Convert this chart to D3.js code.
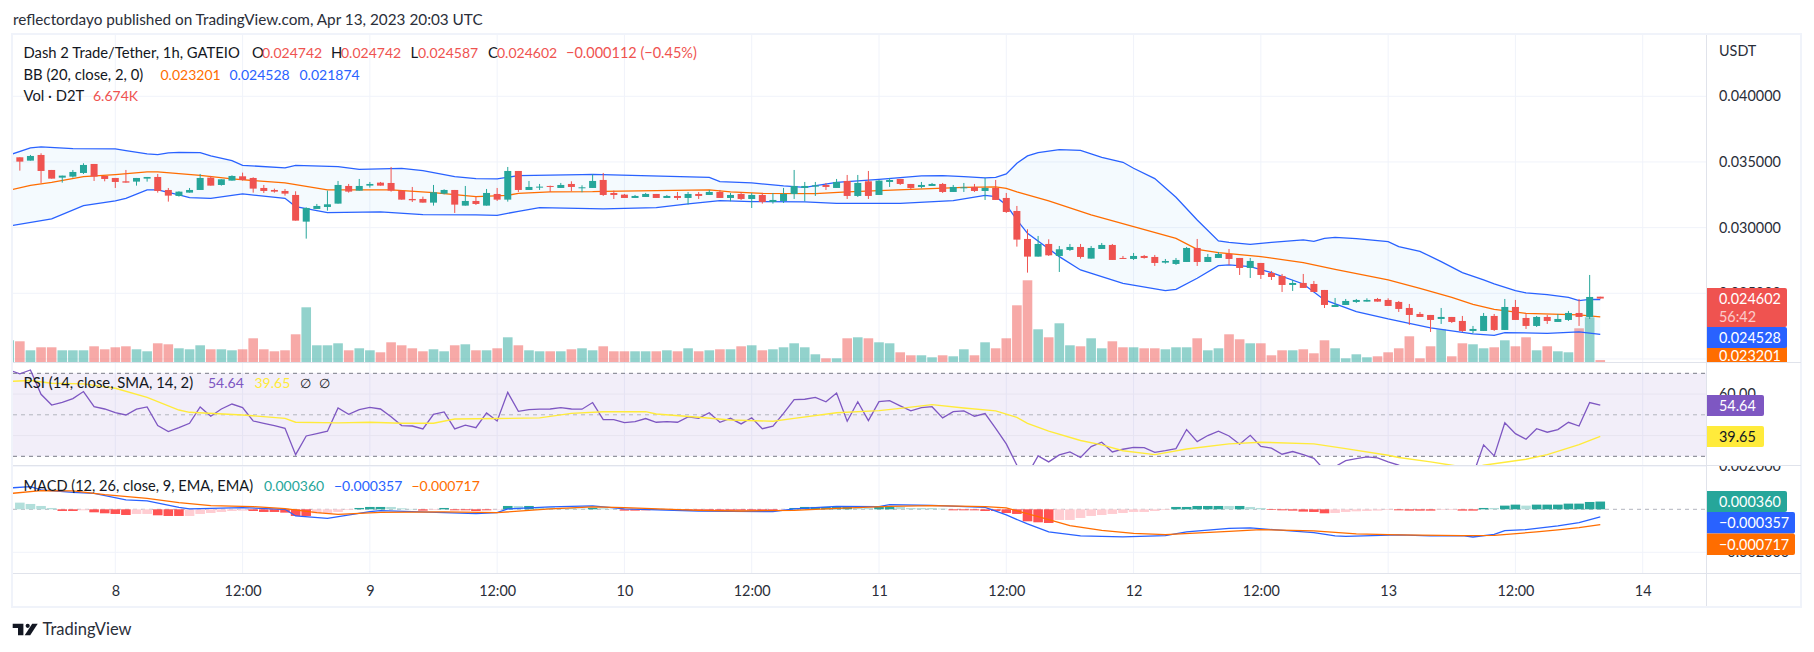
<!DOCTYPE html>
<html>
<head>
<meta charset="utf-8">
<script src="https://cdn.jsdelivr.net/npm/d3@7/dist/d3.min.js"></script>
<style>
	body { margin: 0; background: #fff; }
	text { font-family: 'Lato', 'Noto Sans', sans-serif; fill: #131722; }
	.axis text { font-size: 14.4px; fill: #2a2e39; }
	.axis .domain, .axis .tick line { display: none; }
</style>
</head>
<body>
<svg width="1814" height="652"></svg>
<script>
const svg = d3.select('svg');

// o, h, l, c in millionths of USDT, one row per 1h candle from Apr 7 15:00 UTC
const candles = [
	[35356,35356,34340,35026],[35102,35533,35102,35457],[35533,35660,33401,34315],[34391,34391,33731,33731],[33807,33960,33427,33960],
	[33884,34391,33807,34239],[34163,34899,34087,34772],[34848,34848,33554,33884],[33934,33934,33528,33706],[33782,33782,33021,33478],
	[33528,34391,33427,33427],[33503,33782,33198,33782],[33731,33858,33503,33858],[33858,34087,32665,32792],[32868,33021,31980,32437],
	[32412,32767,32361,32741],[32665,33021,32665,32868],[32868,34087,32868,33782],[33807,33934,33198,33198],[33249,33681,33198,33681],
	[33579,33985,33579,33934],[33909,34188,33579,33630],[33782,33833,32665,32970],[33021,33249,32640,32792],[32868,32970,32665,32741],
	[32792,32945,32437,32589],[32488,32767,30533,30533],[30457,31549,29163,31498],[31422,31802,31422,31650],[31574,32818,31295,31777],
	[31828,33554,31828,33249],[33173,33325,32665,32741],[32818,33706,32818,33173],[33198,33478,33046,33325],[33427,33478,33198,33198],
	[33401,34620,32741,32818],[32818,32843,32132,32132],[32183,33097,31955,32082],[32183,32361,31904,31904],[31904,33249,31676,32691],
	[32589,32919,32538,32868],[32868,32868,31117,31752],[31676,33173,31676,32031],[32031,32361,31726,31802],[31676,32945,31676,32640],
	[32564,33021,32031,32132],[32132,34620,31980,34315],[34315,34315,32716,32868],[32868,33554,32868,33097],[33046,33325,32868,33122],
	[33173,33198,32716,33097],[33021,33401,33021,33249],[33325,33528,32767,33097],[33021,33224,32691,33072],[33021,34061,33021,33554],
	[33630,34163,32412,32488],[32640,32818,32183,32488],[32513,32564,32259,32259],[32259,32488,32259,32412],[32335,32640,32335,32564],
	[32564,32564,32259,32259],[32259,32488,32259,32412],[32412,32716,32107,32259],[32259,32716,31752,32564],[32564,32716,32183,32412],
	[32488,32868,32488,32716],[32716,32868,32259,32259],[32259,32640,32005,32488],[32564,32716,32107,32183],[32183,32640,31498,32488],
	[32488,32640,31828,31955],[31955,32640,31828,32107],[32031,33021,31878,32564],[32564,34391,32183,33173],[33021,33478,32005,33173],
	[33122,33478,32412,33224],[33249,33401,32868,33097],[33021,33706,33021,33478],[33554,34011,32183,32412],[32412,34011,32335,33401],
	[33528,34315,32183,32412],[32488,33630,32488,33579],[33478,33782,33097,33630],[33706,33706,33249,33325],[33325,33325,32919,33021],
	[33097,33478,32995,33249],[33173,33401,33173,33325],[33325,33401,32640,32716],[32716,33249,32716,33097],[32995,33401,32716,33072],
	[33097,33325,32716,32792],[32792,33782,32107,33021],[33021,33630,32107,32107],[32259,32640,31117,31193],[31269,31650,28554,29087],
	[29138,29874,26574,27793],[27793,29366,27793,28757],[28757,29112,27843,27894],[27843,28605,26625,28351],[28300,28757,28224,28528],
	[28528,28757,27640,27767],[27640,28605,27640,28452],[28376,28833,28376,28681],[28681,28757,27539,27539],[27691,27843,27615,27615],
	[27615,28072,27539,27843],[27843,27919,27640,27691],[27767,27919,27082,27310],[27335,27615,27259,27462],[27234,27691,27158,27539],
	[27386,28528,27386,28452],[28452,29138,27082,27386],[27386,27996,27386,27767],[27691,28148,27691,27996],[27996,28376,27158,27615],
	[27691,27691,26396,26929],[26929,27691,26168,27462],[27310,27310,26092,26396],[26549,26701,26016,26244],[26320,26473,25102,25635],
	[25635,26016,25179,25788],[25788,26473,25407,25407],[25711,25940,25102,25102],[25254,25254,23883,24112],[23959,24645,23959,24112],
	[24112,24569,24112,24417],[24341,24569,24265,24493],[24366,24620,24366,24493],[24569,24645,24366,24366],[24493,24620,24036,24036],
	[24341,24417,23579,23808],[23883,24188,22590,23351],[23427,23579,23199,23199],[23351,23351,22057,22970],[23046,23883,22666,23199],
	[23199,23199,22742,22818],[22894,23275,22057,22133],[22133,22514,21955,22285],[22133,23503,22133,23275],[23275,23427,22133,22209],
	[22209,24569,22209,23959],[23959,24493,22970,22970],[23122,23478,22285,22514],[22514,23275,22438,23199],[23199,23351,22666,22894],
	[22818,23427,22818,23046],[22970,23655,22894,23503],[23503,24569,22514,23199],[23199,26396,23046,24721],[24742,24742,24587,24602]
];

// volume in thousands, same candles
const volume = [
	63,36,45,45,36,36,36,48,39,45,48,39,33,57,54,42,39,51,39,39,36,39,72,39,33,36,84,165,51,51,
	57,36,42,36,30,60,51,42,33,39,33,51,54,36,36,42,75,51,36,33,33,33,39,42,36,48,33,33,33,33,
	33,36,33,42,33,36,39,39,48,51,36,39,45,57,45,24,12,12,72,75,72,60,57,30,21,21,15,21,18,39,
	21,60,42,72,171,246,99,75,117,51,48,72,42,63,45,45,42,42,39,45,45,72,36,42,84,69,57,57,21,36,
	36,39,27,66,42,12,24,15,18,30,42,78,12,48,99,18,57,54,42,45,66,48,75,36,48,33,30,102,135,6.674
];

// bollinger bands, [candle number, price in millionths]
const bbUpper = [
	[0,35533],[2,36066],[3,36142],[6,36015],[10,35990],[11,35863],[13,35609],[14,35559],[15,35686],[16,35736],[18,35711],
	[19,35457],[21,35102],[22,34747],[26,34544],[27,34747],[31,34645],[33,34442],[37,34518],[39,34340],[40,34188],[42,33884],
	[44,33731],[46,33706],[48,33960],[54,34036],[55,34061],[66,33833],[67,33503],[70,33401],[73,33173],[75,33072],[78,33452],
	[82,33681],[86,33935],[88,33960],[90,33884],[92,33782],[93,33833],[94,34087],[95,34899],[96,35457],[97,35711],[99,35939],
	[101,35888],[103,35356],[105,34975],[106,34518],[108,33731],[110,32310],[112,30584],[114,28985],[115,28884],[117,28731],
	[119,28884],[122,29061],[123,28960],[124,29188],[125,29264],[127,29163],[130,28935],[131,28554],[133,28198],[135,27412],
	[137,26574],[139,26016],[140,25711],[142,25204],[143,25026],[145,24899],[147,24696],[148,24442],[149,24544],[150,24528]
];
const bbBasis = [
	[0,32843],[2,33224],[4,33452],[7,33884],[10,34036],[13,34239],[14,34239],[18,33985],[21,33706],[26,33401],[30,32868],
	[36,32868],[40,32665],[44,32361],[47,32462],[48,32614],[51,32716],[55,32741],[56,32767],[61,32818],[66,32868],[68,32716],
	[71,32614],[76,32589],[79,32716],[85,32919],[90,33071],[93,33097],[94,32995],[95,32716],[96,32488],[98,32031],[102,30965],
	[106,30077],[110,29188],[112,28351],[114,28097],[118,27793],[122,27335],[125,26828],[130,26016],[133,25381],[136,24696],
	[138,24163],[140,23782],[143,23478],[148,23351],[150,23201]
];
const bbLower = [
	[0,30127],[4,30661],[7,31676],[10,32031],[11,32234],[13,32868],[14,32868],[16,32488],[17,32285],[19,32234],[22,32564],
	[26,32234],[27,31599],[30,31142],[35,31193],[39,30990],[44,30965],[46,30939],[48,31244],[50,31523],[56,31422],[61,31523],
	[64,31802],[67,32056],[70,31980],[75,31955],[78,31853],[84,31853],[89,32056],[92,32462],[93,32361],[94,31726],[95,30584],
	[96,29569],[99,27793],[101,26777],[105,25762],[109,25204],[110,25305],[112,26143],[114,27107],[115,27158],[117,27031],
	[119,26574],[122,25711],[124,24493],[127,23605],[130,23046],[132,22716],[134,22361],[138,21904],[140,21803],[141,22006],
	[145,21955],[148,22057],[150,21874]
];

// rsi, one value per candle, first value is the candle just off the left edge
const rsi = [
	71.6,69.7,71.6,59.9,54.7,56.0,57.8,61.2,53.9,52.8,51.0,49.9,52.7,53.8,44.8,41.9,43.8,45.9,53.8,49.3,52.8,55.2,53.5,47.0,45.9,
	44.8,43.5,30.8,39.8,40.9,42.1,53.3,50.2,52.5,53.6,52.8,49.1,44.8,44.6,43.2,50.2,51.4,43.2,45.0,43.8,50.9,47.0,60.8,51.7,52.5,
	52.7,52.8,53.5,52.8,52.7,55.9,47.7,47.7,46.2,46.7,48.2,46.4,46.7,46.4,49.0,48.3,51.0,46.4,48.3,45.6,48.6,43.3,44.5,50.7,57.3,
	57.5,58.4,56.3,60.5,46.9,56.3,47.2,56.3,56.8,54.3,51.9,53.5,53.9,48.5,51.5,51.9,49.3,50.6,43.5,36.0,25.7,21.2,30.2,27.3,30.7,
	32.1,29.4,34.7,36.8,32.1,33.4,34.3,34.2,31.9,32.7,33.7,42.9,37.1,40.0,42.1,39.8,35.8,40.1,34.8,33.9,31.0,32.3,30.8,29.0,23.4,
	25.0,27.9,28.9,29.7,29.2,27.3,25.7,23.4,24.2,21.0,21.8,19.4,17.8,21.0,35.5,30.2,46.2,40.9,38.2,43.3,41.6,42.9,46.4,44.6,55.9,54.64
];
const rsiSma = [
	[0,66.1],[2,66.5],[4,65.2],[7,64.9],[10,62.8],[13,58.4],[16,52.3],[17,51.2],[22,49.9],[26,48.3],[27,46.4],[31,46.1],[34,46.4],
	[37,45.9],[40,45.9],[42,48.0],[46,48.2],[50,48.5],[53,50.7],[56,51.5],[60,51.5],[61,50.4],[65,48.8],[68,47.5],[72,46.9],[74,48.3],
	[78,51.0],[82,52.0],[84,53.1],[87,54.9],[90,53.3],[93,51.9],[95,48.8],[96,45.9],[98,42.1],[101,37.6],[103,35.5],[105,32.7],
	[108,30.8],[111,33.5],[115,36.0],[118,36.8],[123,36.0],[126,33.7],[130,30.5],[131,29.4],[134,27.3],[136,25.7],[138,24.2],[139,25.7],
	[141,27.1],[143,28.6],[145,30.8],[148,35.6],[150,39.65]
];

// macd lines, [candle number, millionths]
const macdLine = [
	[0,992],[2,1054],[3,899],[6,790],[8,744],[11,434],[13,388],[16,93],[17,16],[22,78],[26,0],[27,-310],[30,-419],[34,-109],[35,-62],
	[41,-155],[44,-202],[46,-155],[47,16],[51,109],[55,155],[58,16],[65,-78],[72,-109],[74,16],[78,140],[82,124],[83,217],[87,186],
	[92,93],[94,-264],[96,-682],[98,-1054],[101,-1240],[105,-1287],[109,-1225],[111,-1054],[115,-884],[117,-868],[123,-1085],[125,-1240],
	[126,-1256],[131,-1194],[134,-1240],[137,-1225],[138,-1287],[140,-1163],[141,-992],[143,-946],[146,-775],[148,-620],[150,-357]
];
const macdSignal = [
	[0,729],[3,868],[6,853],[9,682],[13,512],[16,310],[19,171],[23,124],[26,31],[29,-155],[31,-233],[35,-140],[41,-124],[46,-155],[51,16],
	[55,109],[58,78],[65,-47],[69,-78],[74,-47],[78,47],[83,140],[87,171],[92,124],[94,62],[97,-341],[100,-760],[103,-977],[106,-1116],
	[109,-1178],[115,-1023],[118,-946],[123,-1008],[127,-1147],[131,-1194],[137,-1225],[140,-1209],[144,-1054],[146,-961],[148,-853],[150,-717]
];
const macdHist = [
	310,248,155,62,-78,-78,-47,-140,-186,-217,-264,-217,-217,-279,-310,-310,-310,-217,-171,-124,-78,-62,-78,-124,-124,-155,-310,-310,-186,-186,
	-124,-31,62,109,109,109,47,16,-62,-31,62,-47,-47,-78,-47,-16,155,155,155,93,93,62,62,31,62,47,16,-62,-62,-47,
	-31,-31,-16,-47,-47,-47,-47,-47,-47,-47,-78,-78,-47,62,109,109,109,109,109,62,62,109,109,109,62,62,62,31,-47,-47,
	-47,-78,-78,-171,-217,-558,-605,-636,-496,-496,-403,-310,-264,-217,-171,-124,-124,-78,-31,109,109,155,155,155,155,155,109,62,-31,-47,
	-62,-109,-124,-186,-171,-124,-93,-78,-62,-31,-47,-62,-62,-62,-31,-31,-62,-62,62,62,171,217,171,217,217,217,264,264,341,360
];
// g rising above zero, l falling above zero, p rising below zero, r falling below zero
const macdHistKind = [
	'llll', 'rr', 'p', 'rrrr', 'pp', 'rrr', 'pppppp', 'rrrrrr', 'pppp', 'ggg', 'lll', 'r', 'p', 'g', 'rrrr', 'p', 'g', 'l', 'g', 'lllll',
	'g', 'll', 'rrr', 'ppp', 'rrrrrrrrr', 'p', 'gggggg', 'll', 'gg', 'lllll', 'rrrrrrrrrr', 'ppppppppppp', 'ggggg', 'l', 'g', 'll',
	'rrrrrr', 'pppppp', 'rrrr', 'pp', 'rr', 'g', 'l', 'gg', 'l', 'ggggggg'
].join('');

const colors = {
	up: '#26a69a', down: '#ef5350', blue: '#2962ff', orange: '#ff6d00',
	purple: '#7e57c2', yellow: '#ffeb3b', grid: '#f0f3fa', line: '#e0e3eb',
};

const plot = { left: 13, right: 1706, top: 35, bottom: 573 };
const panes = {
	price: { top: 35, bottom: 362 },
	rsi: { top: 363, bottom: 465 },
	macd: { top: 466, bottom: 573 },
};

const time = n => new Date(Date.UTC(2023, 3, 7, 15 + n - 1));

const render = () => {
	const x = d3.scaleUtc()
		.domain([new Date(Date.UTC(2023, 3, 8)), new Date(Date.UTC(2023, 3, 14))])
		.range([115.3, 1642.7]);

	const yPrice = d3.scaleLinear().domain([0.04, 0.025]).range([96.3, 293.3]);
	const yVol = d3.scaleLinear().domain([0, 300]).range([362.3, 262.3]);
	const yRsi = d3.scaleLinear().domain([70, 30]).range([373.3, 456.3]);
	const yMacd = d3.scaleLinear().domain([0.002, -0.002]).range([466.3, 552.3]);

	const defs = svg.append('defs');
	Object.entries(panes).forEach(([name, p]) => {
		defs.append('clipPath').attr('id', `clip-${name}`)
			.append('rect')
				.attr('x', plot.left)
				.attr('y', p.top)
				.attr('width', plot.right - plot.left)
				.attr('height', p.bottom - p.top);
	});

	// grid
	const timeTicks = d3.range(0, 13).map(i => new Date(Date.UTC(2023, 3, 8, i * 12)));
	const grid = svg.append('g').attr('stroke', colors.grid).attr('stroke-width', 1);
	grid.selectAll('.v').data(timeTicks)
		.enter().append('line')
			.attr('x1', d => x(d)).attr('x2', d => x(d))
			.attr('y1', plot.top).attr('y2', plot.bottom);
	const priceTicks = [0.04, 0.035, 0.03, 0.025, 0.02];
	grid.selectAll('.p').data(priceTicks)
		.enter().append('line')
			.attr('x1', plot.left).attr('x2', plot.right)
			.attr('y1', d => yPrice(d)).attr('y2', d => yPrice(d));

	// price pane
	const price = svg.append('g').attr('clip-path', 'url(#clip-price)');

	price.selectAll('.vol').data(volume)
		.enter().append('rect')
			.attr('x', (d, i) => x(time(i + 1)) - 4.8)
			.attr('y', d => yVol(d))
			.attr('width', 9.6)
			.attr('height', d => yVol(0) - yVol(d))
			.attr('fill', (d, i) => candles[i][3] >= candles[i][0] ? colors.up : colors.down)
			.attr('opacity', 0.5);
	// the bar just off the left edge
	price.append('rect')
		.attr('x', x(time(0)) - 4.8).attr('y', yVol(66)).attr('width', 9.6)
		.attr('height', yVol(0) - yVol(66))
		.attr('fill', colors.up).attr('opacity', 0.5);

	const pLine = d3.line().x(d => x(time(d[0]))).y(d => yPrice(d[1] / 1e6));
	price.append('path')
		.attr('d', pLine([...bbUpper, ...bbLower.slice().reverse()]) + 'Z')
		.attr('fill', '#2196f3').attr('fill-opacity', 0.05);
	[[bbUpper, colors.blue], [bbLower, colors.blue], [bbBasis, colors.orange]].forEach(([d, c]) => {
		price.append('path')
			.attr('d', pLine(d))
			.attr('fill', 'none').attr('stroke', c).attr('stroke-width', 1.3);
	});

	const candle = price.selectAll('.candle').data(candles)
		.enter().append('g')
			.attr('fill', d => d[3] >= d[0] ? colors.up : colors.down)
			.attr('stroke', d => d[3] >= d[0] ? colors.up : colors.down);
	candle.append('line')
		.attr('x1', (d, i) => x(time(i + 1))).attr('x2', (d, i) => x(time(i + 1)))
		.attr('y1', d => yPrice(d[1] / 1e6)).attr('y2', d => yPrice(d[2] / 1e6));
	candle.append('rect')
		.attr('x', (d, i) => x(time(i + 1)) - 3.5)
		.attr('y', d => yPrice(Math.max(d[0], d[3]) / 1e6))
		.attr('width', 7)
		.attr('height', d => Math.max(1, Math.abs(yPrice(d[0] / 1e6) - yPrice(d[3] / 1e6))))
		.attr('stroke', 'none');

	// rsi pane
	svg.append('rect')
		.attr('x', plot.left).attr('width', plot.right - plot.left)
		.attr('y', yRsi(70)).attr('height', yRsi(30) - yRsi(70))
		.attr('fill', colors.purple).attr('opacity', 0.1);
	svg.append('g').attr('stroke', '#e7e4f0').selectAll('line').data([60, 40])
		.enter().append('line')
			.attr('x1', plot.left).attr('x2', plot.right)
			.attr('y1', d => yRsi(d)).attr('y2', d => yRsi(d));
	svg.append('g').selectAll('line').data([70, 50, 30])
		.enter().append('line')
			.attr('x1', plot.left).attr('x2', plot.right)
			.attr('y1', d => yRsi(d)).attr('y2', d => yRsi(d))
			.attr('stroke', d => d === 50 ? '#b2b5be' : '#787b86')
			.attr('stroke-dasharray', '4 4');

	const rsiG = svg.append('g').attr('clip-path', 'url(#clip-rsi)');
	rsiG.append('path')
		.attr('d', d3.line().x((d, i) => x(time(i))).y(d => yRsi(d))(rsi))
		.attr('fill', 'none').attr('stroke', colors.purple).attr('stroke-width', 1.3);
	rsiG.append('path')
		.attr('d', d3.line().x(d => x(time(d[0]))).y(d => yRsi(d[1]))(rsiSma))
		.attr('fill', 'none').attr('stroke', colors.yellow).attr('stroke-width', 1.4);

	// macd pane
	svg.append('g').attr('stroke', colors.grid).selectAll('line').data([0.002, -0.002])
		.enter().append('line')
			.attr('x1', plot.left).attr('x2', plot.right)
			.attr('y1', d => yMacd(d)).attr('y2', d => yMacd(d));
	svg.append('line')
		.attr('x1', plot.left).attr('x2', plot.right)
		.attr('y1', yMacd(0)).attr('y2', yMacd(0))
		.attr('stroke', '#b2b5be').attr('stroke-dasharray', '4 4');

	const histColor = { g: colors.up, l: '#b2dfdb', p: '#ffcdd2', r: '#ff5252' };
	const macdG = svg.append('g').attr('clip-path', 'url(#clip-macd)');
	macdG.selectAll('.hist').data(macdHist)
		.enter().append('rect')
			.attr('x', (d, i) => x(time(i + 1)) - 4.8)
			.attr('y', d => yMacd(Math.max(0, d / 1e6)))
			.attr('width', 9.6)
			.attr('height', d => Math.abs(yMacd(d / 1e6) - yMacd(0)))
			.attr('fill', (d, i) => histColor[macdHistKind[i]]);
	const mLine = d3.line().x(d => x(time(d[0]))).y(d => yMacd(d[1] / 1e6));
	[[macdLine, colors.blue], [macdSignal, colors.orange]].forEach(([d, c]) => {
		macdG.append('path')
			.attr('d', mLine(d))
			.attr('fill', 'none').attr('stroke', c).attr('stroke-width', 1.3);
	});

	// frame and separators
	const frame = svg.append('g');
	frame.append('rect')
		.attr('x', 12).attr('y', 34).attr('width', 1789).attr('height', 573)
		.attr('fill', 'none').attr('stroke', colors.grid).attr('stroke-width', 2);
	[362.5, 465.5, 573.5].forEach(y => {
		frame.append('line')
			.attr('x1', plot.left).attr('x2', 1801).attr('y1', y).attr('y2', y)
			.attr('stroke', colors.line);
	});
	frame.append('line')
		.attr('x1', 1706.5).attr('x2', 1706.5).attr('y1', 35).attr('y2', 606)
		.attr('stroke', colors.line);

	// axes
	svg.append('g').attr('class', 'axis')
		.attr('transform', 'translate(0, 597)')
		.call(d3.axisBottom(x).tickValues(timeTicks).tickSize(0).tickPadding(-11)
			.tickFormat(d => d.getUTCHours() === 12 ? '12:00' : d3.utcFormat('%-d')(d)));

	const axisX = 1719;
	svg.append('g').attr('class', 'axis')
		.attr('transform', `translate(${axisX}, 0)`)
		.call(d3.axisRight(yPrice).tickValues([0.04, 0.035, 0.03, 0.025]).tickSize(0).tickPadding(0)
			.tickFormat(d3.format('.6f')));
	svg.append('g').attr('class', 'axis')
		.attr('transform', `translate(${axisX}, 0)`)
		.call(d3.axisRight(yRsi).tickValues([60, 40]).tickSize(0).tickPadding(0).tickFormat(d3.format('.2f')));
	defs.append('clipPath').attr('id', 'clip-axis')
		.append('rect').attr('x', -20).attr('y', 466).attr('width', 120).attr('height', 107);
	svg.append('g').attr('class', 'axis')
		.attr('clip-path', 'url(#clip-axis)')
		.attr('transform', `translate(${axisX}, 0)`)
		.call(d3.axisRight(yMacd).tickValues([0.002, -0.002]).tickSize(0).tickPadding(0).tickFormat(d3.format('.6f')));
	svg.append('text')
		.attr('x', axisX).attr('y', 56)
		.attr('font-size', 14.4).style('fill', '#2a2e39')
		.text('USDT');

	// value tags on the scale
	const tag = (top, bottom, right, color, label, textColor, clip) => {
		const g = svg.append('g');
		if (clip) g.attr('clip-path', clip);
		g.append('path')
			.attr('d', `M1707,${top}H${right - 2}Q${right},${top} ${right},${top + 2}V${bottom - 2}Q${right},${bottom} ${right - 2},${bottom}H1707Z`)
			.attr('fill', color);
		if (label) {
			g.append('text')
				.attr('x', axisX).attr('y', (top + bottom) / 2 + 5.5)
				.attr('font-size', 14.4)
				.style('fill', textColor)
				.text(label);
		}
		return g;
	};
	defs.append('clipPath').attr('id', 'clip-tag')
		.append('rect').attr('x', 1707).attr('y', 35).attr('width', 90).attr('height', 327);

	tag(341, 369, 1787, colors.orange, '0.023201', '#fff', 'url(#clip-tag)');
	tag(327, 348, 1787, colors.blue, '0.024528', '#fff');
	const redTag = tag(288, 327, 1787, colors.down);
	redTag.append('text').attr('x', axisX).attr('y', 304).attr('font-size', 14.4).style('fill', '#fff').text('0.024602');
	redTag.append('text').attr('x', axisX).attr('y', 322).attr('font-size', 14.4).style('fill', '#fff').attr('opacity', 0.7).text('56:42');

	tag(395, 416, 1764, colors.purple, '54.64', '#fff');
	tag(426, 447, 1764, colors.yellow, '39.65', '#131722');
	tag(491, 512, 1787, colors.up, '0.000360', '#fff');
	tag(512, 533.5, 1795, colors.blue, '\u22120.000357', '#fff');
	tag(533.5, 555, 1795, colors.orange, '\u22120.000717', '#fff');

	// legends
	const legend = (xPos, y, label, color, size = 14.8) => svg.append('text')
		.attr('x', xPos).attr('y', y)
		.attr('font-size', size)
		.style('fill', color)
		.text(label);
	const value = (xPos, y, label, color) => legend(xPos, y, label, color, 14);

	const row1 = 58, row2 = 80, row3 = 101, rowRsi = 388, rowMacd = 491;
	legend(23.5, row1, 'Dash 2 Trade/Tether, 1h, GATEIO', '#131722');
	legend(252, row1, 'O', '#131722'); value(262, row1, '0.024742', colors.down);
	legend(331, row1, 'H', '#131722'); value(341, row1, '0.024742', colors.down);
	legend(410.5, row1, 'L', '#131722'); value(418, row1, '0.024587', colors.down);
	legend(488, row1, 'C', '#131722'); value(497, row1, '0.024602', colors.down);
	legend(566, row1, '\u22120.000112 (\u22120.45%)', colors.down, 14.5);

	legend(23.5, row2, 'BB (20, close, 2, 0)', '#131722');
	value(160.5, row2, '0.023201', colors.orange);
	value(229.5, row2, '0.024528', colors.blue);
	value(299.5, row2, '0.021874', colors.blue);

	legend(23.5, row3, 'Vol \u00b7 D2T', '#131722');
	value(93, row3, '6.674K', colors.down);

	legend(23.5, rowRsi, 'RSI (14, close, SMA, 14, 2)', '#131722');
	value(208, rowRsi, '54.64', colors.purple);
	value(254.5, rowRsi, '39.65', colors.yellow);
	legend(300, rowRsi, '\u2205', '#131722', 13);
	legend(319, rowRsi, '\u2205', '#131722', 13);

	legend(23.5, rowMacd, 'MACD (12, 26, close, 9, EMA, EMA)', '#131722', 14.6);
	value(264, rowMacd, '0.000360', colors.up);
	value(334, rowMacd, '\u22120.000357', colors.blue);
	value(411.5, rowMacd, '\u22120.000717', colors.orange);

	// header and footer
	svg.append('text')
		.attr('x', 13).attr('y', 25)
		.attr('font-size', 15.3)
		.style('fill', '#2a2e39')
		.text('reflectordayo published on TradingView.com, Apr 13, 2023 20:03 UTC');

	const logo = svg.append('g').attr('transform', 'translate(12.7, 623.7)').attr('fill', '#131722');
	logo.append('path').attr('d', 'M0,0H10.7V11.6H5.3V4.3H0Z');
	logo.append('circle').attr('cx', 15).attr('cy', 2.1).attr('r', 2.1);
	logo.append('path').attr('d', 'M19.5,0H25L17.5,11.6H12Z');
	svg.append('text')
		.attr('x', 42.5).attr('y', 635)
		.attr('font-size', 16.5)
		.style('fill', '#2a2e39')
		.text('TradingView');
};

render();
</script>
</body>
</html>
